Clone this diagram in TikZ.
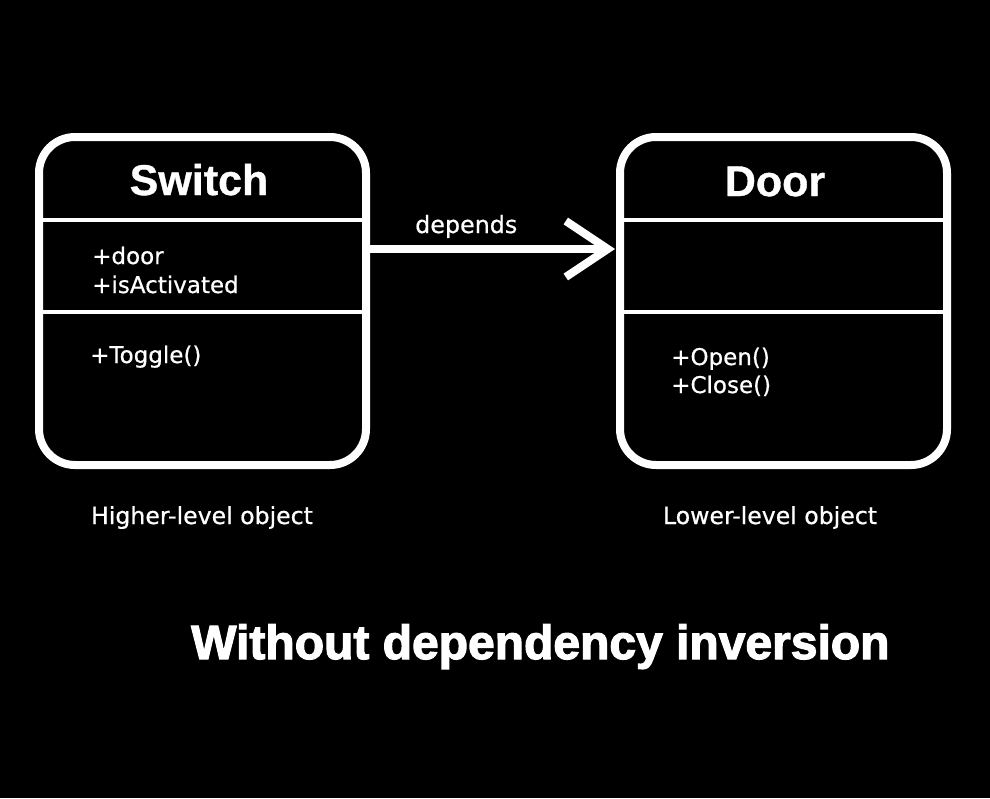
\documentclass[tikz,border=0pt]{standalone}
\usepackage{fontspec}
\setmainfont{DejaVu Sans}[FakeBold=0.6]
\newfontfamily\titlefont{Liberation Sans Bold}[FakeBold=0.8]
\newfontfamily\heavyfont{Liberation Sans Bold}[FakeBold=2.5]
\usetikzlibrary{arrows.meta}
\begin{document}
\begin{tikzpicture}[x=1pt,y=-1pt,
  classbox/.style={draw=white, line width=8pt, rounded corners=36pt, fill=black,
    minimum width=327pt, minimum height=328pt, inner sep=0pt, outer sep=0pt},
  divider/.style={draw=white, line width=3.5pt},
  body/.style={text=white, inner sep=0pt, anchor=base west, font=\fontsize{23}{27}\selectfont},
  classtitle/.style={text=white, inner sep=0pt, anchor=base, font=\titlefont\fontsize{43}{50}\selectfont},
  caption/.style={text=white, inner sep=0pt, anchor=base, font=\fontsize{23.6}{28}\selectfont},
  depend/.style={draw=white, line width=8pt, -{Straight Barb[length=42pt, width=56pt]}}
]
\fill[black] (0,0) rectangle (990,798);
\useasboundingbox (0,0) rectangle (990,798);

\node[classbox] (switch) at (202.5,301) {};
\node[classbox] (door) at (783.5,301) {};

\draw[divider] ([yshift=-83pt]switch.north west) -- ([yshift=-83pt]switch.north east);
\draw[divider] ([yshift=-175pt]switch.north west) -- ([yshift=-175pt]switch.north east);
\draw[divider] ([yshift=-83pt]door.north west) -- ([yshift=-83pt]door.north east);
\draw[divider] ([yshift=-175pt]door.north west) -- ([yshift=-175pt]door.north east);

\node[classtitle] (switchtitle) at (199,195) {Switch};
\node[classtitle] (doortitle) at (775,196) {Door};

\node[body] (sdoor) at (92,264) {+door};
\node[body] (sact) at (92,293) {+isActivated};
\node[body] (stoggle) at (90,363) {+Toggle()};
\node[body] (dopen) at (671,365) {+Open()};
\node[body] (dclose) at (671,393) {+Close()};

\draw[depend] ([yshift=52pt]switch.east) -- ([yshift=52pt,xshift=-5pt]door.west);
\node[body, font=\fontsize{23.8}{28}\selectfont] (dep) at (415,233) {depends};

\node[caption] (hl) at (202,524) {Higher-level object};
\node[caption] (ll) at (770,524) {Lower-level object};

\node[text=white, inner sep=0pt, anchor=base west, font=\heavyfont\fontsize{48}{55}\selectfont] (title) at (191,659) {Without dependency inversion};
\end{tikzpicture}
\end{document}
